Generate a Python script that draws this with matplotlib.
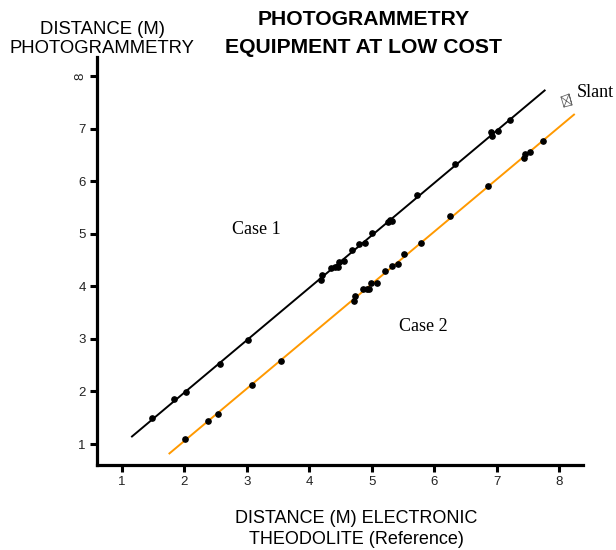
import numpy as np
import matplotlib
matplotlib.use("Agg")
import matplotlib.pyplot as plt
from matplotlib.lines import Line2D

# Case 1: theodolite distance vs photogrammetry distance (black)
case1_x = [1.48, 1.84, 2.02, 2.57, 3.02, 4.18, 4.21, 4.34, 4.41, 4.46, 4.47, 4.56,
           4.69, 4.80, 4.89, 5.01, 5.26, 5.29, 5.32, 5.72, 6.34, 6.91, 6.92, 7.02, 7.22]
case1_y = [1.49, 1.85, 1.98, 2.52, 2.98, 4.12, 4.21, 4.35, 4.37, 4.36, 4.46, 4.48,
           4.69, 4.80, 4.82, 5.01, 5.22, 5.27, 5.25, 5.73, 6.32, 6.93, 6.86, 6.95, 7.16]

# Case 2 (orange line)
case2_x = [2.01, 2.37, 2.54, 3.09, 3.54, 4.71, 4.73, 4.86, 4.92, 4.96, 4.99, 5.08,
           5.21, 5.33, 5.42, 5.52, 5.79, 6.25, 6.86, 7.44, 7.45, 7.54, 7.75]
case2_y = [1.09, 1.44, 1.58, 2.12, 2.58, 3.72, 3.81, 3.95, 3.95, 3.95, 4.07, 4.07,
           4.29, 4.38, 4.42, 4.61, 4.82, 5.33, 5.91, 6.45, 6.51, 6.55, 6.76]

# extent of the trend lines
case1_range = [1.16, 7.77]
case2_range = [1.76, 8.24]

x_ticks = [1, 2, 3, 4, 5, 6, 7, 8]
y_ticks = [1, 2, 3, 4, 5, 6, 7, 8]

plt.rcParams['font.family'] = ['Liberation Sans', 'DejaVu Sans']

fig = plt.figure(figsize=(6.16, 5.5), dpi=100)
ax = fig.add_axes([0.1575, 0.1545, 0.7885, 0.7415])

# trend lines from a linear fit
for xs, ys, rng, col in [(case1_x, case1_y, case1_range, 'black'),
                         (case2_x, case2_y, case2_range, '#ff9900')]:
    k, b = np.polyfit(xs, ys, 1)
    lx = np.array(rng)
    ax.plot(lx, k * lx + b, color=col, lw=1.4, zorder=2)
    ax.plot(xs, ys, 'o', color='black', ms=3.8, zorder=3)

ax.set_xlim(0.6, 8.38)
ax.set_ylim(0.6, 8.36)
ax.set_xticks(x_ticks)
ax.set_yticks(y_ticks)

for s in ['top', 'right']:
    ax.spines[s].set_visible(False)
for s in ['left', 'bottom']:
    ax.spines[s].set_linewidth(2.3)
ax.tick_params(direction='out', length=5, width=2.2, labelsize=9.5,
               labelcolor='#222222', pad=3)

# the top y label is drawn sideways in the original
lbls = ax.get_yticklabels()
lbls[-1].set_rotation(90)
lbls[-1].set_verticalalignment('center')

ax.text(3.16, 5.09, 'Case 1', family='Liberation Serif', fontsize=13,
        ha='center', va='center')
ax.text(5.83, 3.24, 'Case 2', family='Liberation Serif', fontsize=13,
        ha='center', va='center')

fig.text(0.59, 0.939, 'PHOTOGRAMMETRY\nEQUIPMENT AT LOW COST', ha='center',
         va='center', fontsize=15.2, fontweight='bold', linespacing=1.57)
fig.text(0.166, 0.929, 'DISTANCE (M)\nPHOTOGRAMMETRY', ha='center', va='center',
         fontsize=13.3, linespacing=1.15)
fig.text(0.579, 0.038, 'DISTANCE (M) ELECTRONIC\nTHEODOLITE (Reference)',
         ha='center', va='center', fontsize=13, linespacing=1.32)

# small "slant" symbol and its label
px = np.array([561, 569, 572, 564, 561, 572, 569, 564]) / 616
py = 1 - np.array([97, 94, 105, 107, 97, 105, 94, 107]) / 550
fig.add_artist(Line2D(px, py, color='#666666', lw=0.6))
fig.text(0.937, 0.832, 'Slant', family='Liberation Serif', fontsize=13,
         ha='left', va='center')

fig.savefig('out.png', dpi=100)
